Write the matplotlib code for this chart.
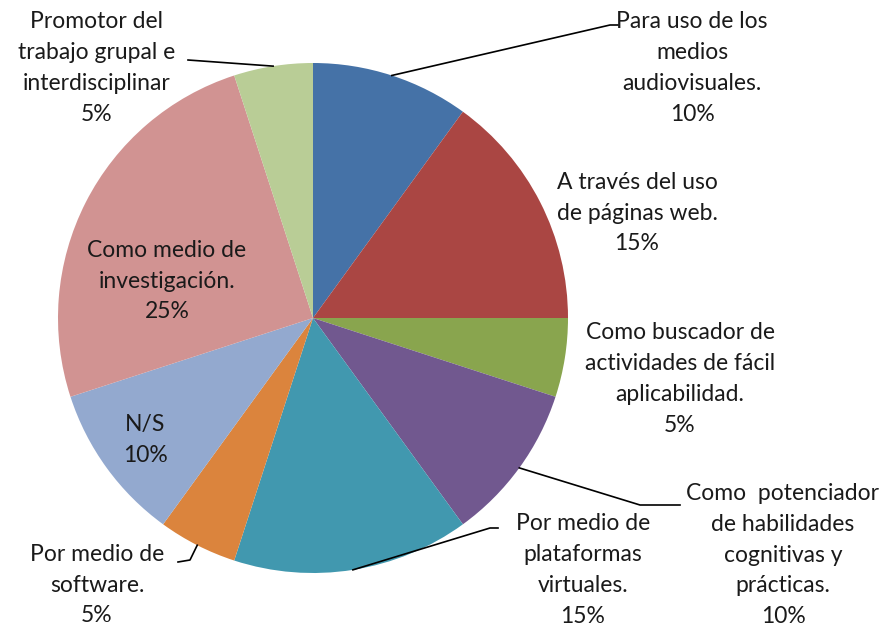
import numpy as np
import matplotlib.pyplot as plt

# datos de la grafica
labels = ["Para uso de los\nmedios\naudiovisuales.",
          "A través del uso\nde páginas web.",
          "Como buscador de\nactividades de fácil\naplicabilidad.",
          "Como  potenciador\nde habilidades\ncognitivas y\nprácticas.",
          "Por medio de\nplataformas\nvirtuales.",
          "Por medio de\nsoftware.",
          "N/S",
          "Como medio de\ninvestigación.",
          "Promotor del\ntrabajo grupal e\ninterdisciplinar"]
values = [10, 15, 5, 10, 15, 5, 10, 25, 5]
colors = ["#4572A7", "#AA4643", "#89A54E", "#71588F", "#4198AF",
          "#DB843D", "#93A9CF", "#D19392", "#B9CD96"]

W, H = 890, 632
cx, cy, R = 313, H - 318, 255

fig = plt.figure(figsize=(W / 100, H / 100), dpi=100)
ax = fig.add_axes([0, 0, 1, 1])

wedges, _ = ax.pie(values, colors=colors, startangle=90, counterclock=False,
                   center=(cx, cy), radius=R, wedgeprops=dict(linewidth=0),
                   frame=True)
ax.set_xlim(0, W)
ax.set_ylim(0, H)
ax.set_aspect("equal")
ax.axis("off")

# posicion del texto (pixeles, y hacia abajo) y quiebre de la linea guia
text_pos = [(692, 68), (637, 213), (680, 379), (783, 555), (583, 570),
            (97, 585), (145, 440), (167, 281), (97, 68)]
elbows = [[(610, 25), (618, 25)], None, None, [(640, 505), (680, 505)],
          [(490, 528), (498, 528)], [(190, 560), (178, 562)], None, None,
          [(188, 60)]]

txt_font = dict(family=["Lato", "DejaVu Sans"], fontsize=16.5, color="#1a1a1a")

for i, w in enumerate(wedges):
    tx, ty = text_pos[i]
    ax.text(tx, H - ty, labels[i] + "\n" + str(values[i]) + "%",
            ha="center", va="center", linespacing=1.58, **txt_font)
    if elbows[i] is not None:
        ang = np.deg2rad((w.theta1 + w.theta2) / 2)
        px, py = cx + R * np.cos(ang), cy + R * np.sin(ang)
        xs = [px] + [p[0] for p in elbows[i]]
        ys = [py] + [H - p[1] for p in elbows[i]]
        ax.plot(xs, ys, color="black", lw=1.2)

fig.savefig("out.png", dpi=100)
